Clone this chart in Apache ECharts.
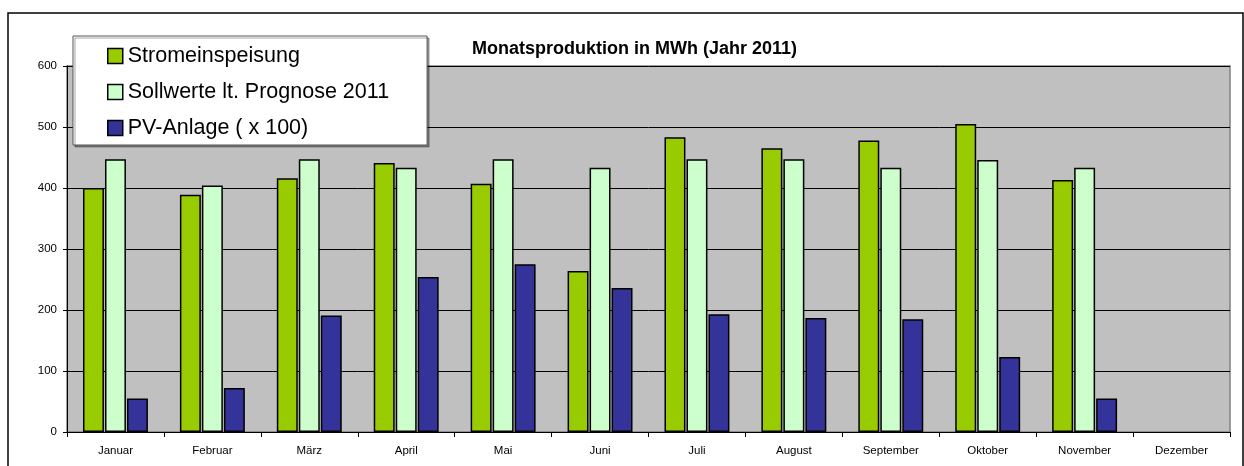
<!DOCTYPE html>
<html><head><meta charset="utf-8">
<script src="https://cdn.jsdelivr.net/npm/echarts@6/dist/echarts.min.js"></script>
<style>html,body{margin:0;padding:0;background:#fff}#c{width:1244px;height:466px}</style>
</head><body><div id="c"></div>
<script>
const categories = ['Januar','Februar','März','April','Mai','Juni','Juli','August','September','Oktober','November','Dezember'];
const seriesNames = ['Stromeinspeisung','Sollwerte lt. Prognose 2011','PV-Anlage ( x 100)'];
const strom = [400, 389, 416, 441, 407, 264, 483, 465, 478, 505, 413, null];
const soll = [447, 404, 447, 433, 447, 433, 447, 447, 433, 446, 433, null];
const pv = [55, 72, 191, 254, 275, 236, 193, 187, 185, 123, 55, null];
const yTicks = [0, 100, 200, 300, 400, 500, 600];
const colors = ['#99CC00', '#CCFFCC', '#333399'];

const chart = echarts.init(document.getElementById('c'), null, {renderer: 'canvas'});
const barStyle = (c) => ({color: c, borderColor: '#000', borderWidth: 1.5});
chart.setOption({
  animation: false,
  textStyle: {fontFamily: 'Liberation Sans, Arial, sans-serif'},
  graphic: [{type: 'rect', shape: {x: 8, y: 13, width: 1235, height: 460}, style: {fill: 'none', stroke: '#000', lineWidth: 1.5}, z: -1}],
  title: {text: 'Monatsproduktion in MWh (Jahr 2011)', left: 467, top: 35,
    textStyle: {fontSize: 18, fontWeight: 'bold', color: '#000', fontFamily: 'Liberation Sans, Arial, sans-serif'}},
  legend: {
    data: seriesNames, orient: 'vertical', left: 73, top: 36,
    backgroundColor: '#fff', borderColor: '#555', borderWidth: 1,
    shadowColor: 'rgba(0,0,0,0.35)', shadowOffsetX: 2, shadowOffsetY: 2, shadowBlur: 0,
    padding: [9, 38, 6, 34], itemGap: 14, itemWidth: 15, itemHeight: 15,
    icon: 'rect',
    itemStyle: {borderColor: '#000', borderWidth: 1.5},
    textStyle: {fontSize: 21.5, color: '#000', padding: [0, 0, 0, 0], fontFamily: 'Liberation Sans, Arial, sans-serif'},
    selectedMode: false
  },
  grid: {left: 67, top: 66, right: 14, bottom: 34, show: true, backgroundColor: '#C0C0C0', borderColor: '#808080', borderWidth: 1.5},
  xAxis: {
    type: 'category', data: categories,
    axisLine: {lineStyle: {color: '#000', width: 1}},
    axisTick: {show: true, length: 5, lineStyle: {color: '#000'}},
    axisLabel: {fontSize: 11.5, color: '#000', margin: 13}
  },
  yAxis: {
    type: 'value', min: 0, max: 600, interval: 100,
    axisLine: {show: true, lineStyle: {color: '#000', width: 1}},
    axisTick: {show: true, length: 4, lineStyle: {color: '#000'}},
    axisLabel: {fontSize: 11.5, color: '#000', margin: 10, formatter: (v) => yTicks.includes(v) ? String(v) : ''},
    splitLine: {lineStyle: {color: '#000', width: 1}}
  },
  series: [
    {name: seriesNames[0], type: 'bar', data: strom, itemStyle: barStyle(colors[0]), barGap: '5%', barCategoryGap: '33%'},
    {name: seriesNames[1], type: 'bar', data: soll, itemStyle: barStyle(colors[1])},
    {name: seriesNames[2], type: 'bar', data: pv, itemStyle: barStyle(colors[2])}
  ]
});
</script></body></html>
